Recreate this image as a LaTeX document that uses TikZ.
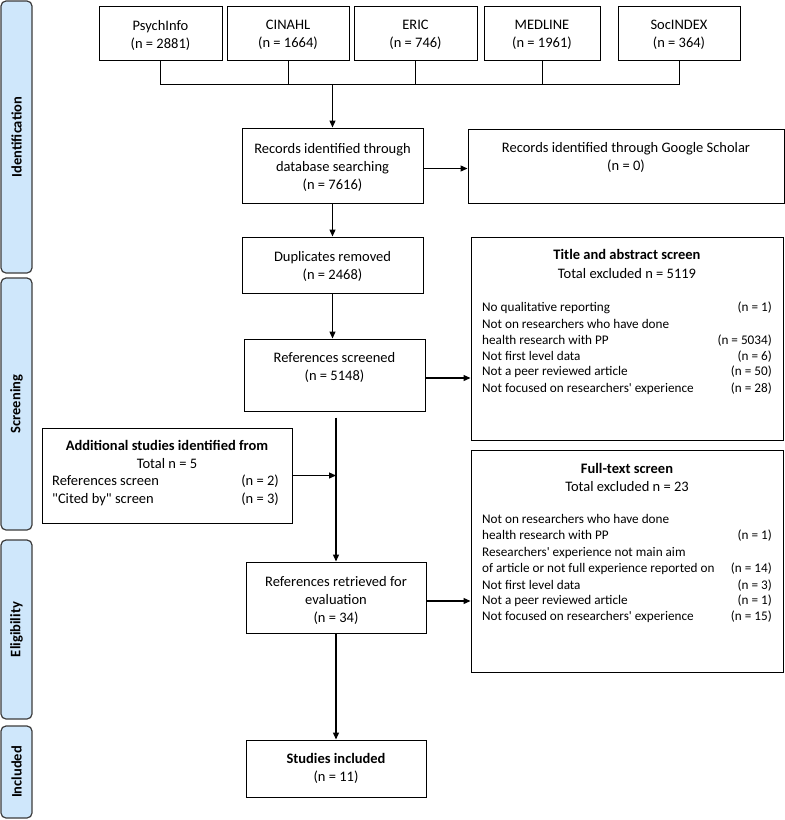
\documentclass[tikz,border=0pt]{standalone}
\usepackage{fontspec}
\setmainfont{Carlito}
\usetikzlibrary{arrows.meta,calc}
\definecolor{barfill}{HTML}{CFE7FB}
\definecolor{barline}{HTML}{3C3C3C}
\tikzset{
  box/.style={draw=black, line width=1pt, inner sep=0pt, fill=white},
  mtxt/.style={inner sep=0pt, font=\fontsize{14.5}{18}\selectfont, align=center},
  txt/.style={inner sep=0pt, font=\fontsize{14.5}{18}\selectfont, text height=9.5pt, text depth=3pt},
  btxt/.style={txt, font=\fontsize{14.5}{18}\selectfont\bfseries},
  stxt/.style={inner sep=0pt, font=\fontsize{13.2}{16}\selectfont, text height=9.5pt, text depth=3pt},
  lstxt/.style={stxt, anchor=west},
  rstxt/.style={stxt, anchor=east},
  ltxt/.style={txt, anchor=west},
  rtxt/.style={txt, anchor=east},
  conn/.style={line width=1pt},
  arr/.style={line width=1.3pt, -{Triangle[length=7pt,width=6pt]}},
  side/.style={draw=barline, fill=barfill, line width=1.2pt, rounded corners=5pt, inner sep=0pt},
  sidetxt/.style={font=\fontsize{14.5}{16}\selectfont\bfseries, rotate=90, inner sep=0pt}
}
\begin{document}
\begin{tikzpicture}[x=1pt,y=-1pt]
\useasboundingbox (0,0) rectangle (785,820);
% side bars
\node[side, minimum width=31, minimum height=272] (sideI) at (16.5,137) {};
\node[sidetxt] (sideIt) at (sideI) {Identification};
\node[side, minimum width=31, minimum height=252] (sideS) at (16.5,404) {};
\node[sidetxt] (sideSt) at (sideS) {Screening};
\node[side, minimum width=31, minimum height=179] (sideE) at (16.5,629.5) {};
\node[sidetxt] (sideEt) at (sideE) {Eligibility};
\node[side, minimum width=31, minimum height=92] (sideN) at (16.5,772) {};
\node[sidetxt] (sideNt) at (sideN) {Included};
% databases
\node[box, minimum width=123, minimum height=54] (psy) at (160.5,33) {};
\node[mtxt] (psyt) at (160.5,35) {PsychInfo\\(n = 2881)};
\node[box, minimum width=122, minimum height=54] (cin) at (288,33) {};
\node[mtxt] (cint) at (288,35) {CINAHL\\(n = 1664)};
\node[box, minimum width=123, minimum height=54] (eric) at (415.5,33) {};
\node[mtxt] (erict) at (415.5,35) {ERIC\\(n = 746)};
\node[box, minimum width=116, minimum height=54] (med) at (542,33) {};
\node[mtxt] (medt) at (542,35) {MEDLINE\\(n = 1961)};
\node[box, minimum width=122, minimum height=54] (soc) at (679,33) {};
\node[mtxt] (soct) at (679,35) {SocINDEX\\(n = 364)};
\coordinate (bar) at (332.5,84);
\draw[conn] (psy.south) |- (soc.south |- bar) -- (soc.south);
\draw[conn] (cin.south) -- (cin.south |- bar);
\draw[conn] (eric.south) -- (eric.south |- bar);
\draw[conn] (med.south) -- (med.south |- bar);
% main column
\node[box, minimum width=181, minimum height=75] (rec) at (332.5,165.5) {};
\node[mtxt] (rect) at (332.5,167) {Records identified through\\database searching\\(n = 7616)};
\draw[arr] (bar) -- (rec.north);
\node[box, minimum width=316, minimum height=74] (goo) at (626,166) {};
\node[mtxt] (goot) at (626,157) {Records identified through Google Scholar\\(n = 0)};
\draw[arr] ([yshift=-3pt]rec.east) -- ([yshift=-3pt]rec.east -| goo.west);
\node[box, minimum width=181, minimum height=56] (dup) at (332.5,265) {};
\node[mtxt] (dupt) at (332.5,266) {Duplicates removed\\(n = 2468)};
\draw[arr] (rec.south) -- (dup.north);
\node[box, minimum width=181, minimum height=72] (scr) at (334.5,375) {};
\node[mtxt] (scrt) at (334.5,367.5) {References screened\\(n = 5148)};
\draw[arr] (dup.south) -- (dup.south |- scr.north);
% title and abstract box
\node[box, minimum width=312, minimum height=203] (tab) at (627,338.5) {};
\node[btxt] (tabh) at (627,256.7) {Title and abstract screen};
\node[txt] (tabn) at (627,275) {Total excluded n = 5119};
\node[lstxt] (tab1) at (482,308.3) {No qualitative reporting};
\node[rstxt] (tab1n) at (772,308.3) {(n = 1)};
\node[lstxt] (tab2) at (482,325) {Not on researchers who have done};
\node[lstxt] (tab3) at (482,341.7) {health research with PP};
\node[rstxt] (tab3n) at (772,341.7) {(n = 5034)};
\node[lstxt] (tab4) at (482,357.3) {Not first level data};
\node[rstxt] (tab4n) at (772,357.3) {(n = 6)};
\node[lstxt] (tab5) at (482,372.7) {Not a peer reviewed article};
\node[rstxt] (tab5n) at (772,372.7) {(n = 50)};
\node[lstxt] (tab6) at (482,389) {Not focused on researchers\textquotesingle{} experience};
\node[rstxt] (tab6n) at (772,389) {(n = 28)};
\draw[arr] ([yshift=-3pt]scr.east) -- ([yshift=-3pt]scr.east -| tab.west);
% additional studies
\node[box, minimum width=250, minimum height=95] (add) at (167,475.5) {};
\node[btxt] (addh) at (167,447) {Additional studies identified from};
\node[txt] (addn) at (167,465) {Total n = 5};
\node[ltxt] (add1) at (52,482) {References screen};
\node[rtxt] (add1n) at (279,482) {(n = 2)};
\node[ltxt] (add2) at (52,500) {\textquotedbl Cited by\textquotedbl{} screen};
\node[rtxt] (add2n) at (279,500) {(n = 3)};
% retrieved
\node[box, minimum width=180, minimum height=71] (ret) at (336,597.5) {};
\node[mtxt] (rett) at (336,600) {References retrieved for\\evaluation\\(n = 34)};
\coordinate (scrout) at ($(scr.south)+(1.5,6)$);
\draw[arr] (scrout) -- (scrout |- ret.north);
\coordinate (join) at (scrout |- add.east);
\draw[arr] (add.east) -- (join);
% full-text box
\node[box, minimum width=312, minimum height=222] (ful) at (627,561) {};
\node[btxt] (fulh) at (627,470) {Full-text screen};
\node[txt] (fuln) at (627,488) {Total excluded n = 23};
\node[lstxt] (ful1) at (482,520) {Not on researchers who have done};
\node[lstxt] (ful2) at (482,536.5) {health research with PP};
\node[rstxt] (ful2n) at (772,536.5) {(n = 1)};
\node[lstxt] (ful3) at (482,553) {Researchers\textquotesingle{} experience not main aim};
\node[lstxt] (ful4) at (482,569.5) {of article or not full experience reported on};
\node[rstxt] (ful4n) at (772,569.5) {(n = 14)};
\node[lstxt] (ful5) at (482,586) {Not first level data};
\node[rstxt] (ful5n) at (772,586) {(n = 3)};
\node[lstxt] (ful6) at (482,601.5) {Not a peer reviewed article};
\node[rstxt] (ful6n) at (772,601.5) {(n = 1)};
\node[lstxt] (ful7) at (482,617.5) {Not focused on researchers\textquotesingle{} experience};
\node[rstxt] (ful7n) at (772,617.5) {(n = 15)};
\draw[arr] ([yshift=-3.5pt]ret.east) -- ([yshift=-3.5pt]ret.east -| ful.west);
% included
\node[box, minimum width=180, minimum height=57] (inc) at (336,768.5) {};
\node[btxt] (inct) at (336,760) {Studies included};
\node[txt] (incn) at (336,778) {(n = 11)};
\draw[arr] (ret.south) -- (inc.north);
\end{tikzpicture}
\end{document}
